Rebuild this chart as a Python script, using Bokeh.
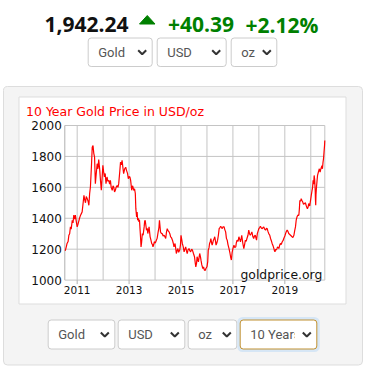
from bokeh.plotting import figure
from bokeh.models import Range1d, BoxAnnotation
from bokeh.core.properties import value
from bokeh.embed import file_html
from bokeh.resources import INLINE

# ---------------- data ----------------
years = [
    2010.54, 2010.58, 2010.61, 2010.65, 2010.68, 2010.71, 2010.74, 2010.77, 2010.81, 2010.84,
    2010.87, 2010.90, 2010.93, 2010.96, 2011.00, 2011.03, 2011.06, 2011.09, 2011.13, 2011.16,
    2011.19, 2011.23, 2011.26, 2011.29, 2011.32, 2011.35, 2011.38, 2011.42, 2011.45, 2011.48,
    2011.51, 2011.55, 2011.58, 2011.61, 2011.64, 2011.67, 2011.70, 2011.73, 2011.77, 2011.80,
    2011.83, 2011.87, 2011.90, 2011.93, 2011.96, 2011.99, 2012.02, 2012.05, 2012.08, 2012.11,
    2012.15, 2012.18, 2012.22, 2012.25, 2012.28, 2012.31, 2012.35, 2012.38, 2012.41, 2012.44,
    2012.47, 2012.50, 2012.54, 2012.57, 2012.60, 2012.64, 2012.67, 2012.70, 2012.73, 2012.76,
    2012.79, 2012.83, 2012.87, 2012.90, 2012.94, 2012.97, 2013.00, 2013.03, 2013.06, 2013.10,
    2013.13, 2013.15, 2013.18, 2013.21, 2013.24, 2013.26, 2013.29, 2013.31, 2013.33, 2013.36,
    2013.38, 2013.40, 2013.42, 2013.44, 2013.46, 2013.48, 2013.51, 2013.54, 2013.58, 2013.60,
    2013.62, 2013.65, 2013.67, 2013.70, 2013.72, 2013.75, 2013.77, 2013.79, 2013.81, 2013.84,
    2013.87, 2013.90, 2013.92, 2013.95, 2013.97, 2014.01, 2014.05, 2014.08, 2014.12, 2014.15,
    2014.17, 2014.19, 2014.21, 2014.25, 2014.28, 2014.31, 2014.35, 2014.38, 2014.41, 2014.44,
    2014.47, 2014.50, 2014.54, 2014.57, 2014.60, 2014.63, 2014.67, 2014.70, 2014.73, 2014.77,
    2014.80, 2014.82, 2014.85, 2014.88, 2014.91, 2014.95, 2014.98, 2015.00, 2015.03, 2015.05,
    2015.08, 2015.12, 2015.15, 2015.18, 2015.21, 2015.24, 2015.27, 2015.31, 2015.34, 2015.37,
    2015.41, 2015.44, 2015.48, 2015.52, 2015.55, 2015.57, 2015.60, 2015.62, 2015.65, 2015.67,
    2015.70, 2015.72, 2015.75, 2015.77, 2015.80, 2015.84, 2015.87, 2015.90, 2015.93, 2015.96,
    2016.00, 2016.03, 2016.05, 2016.08, 2016.10, 2016.13, 2016.15, 2016.18, 2016.20, 2016.23,
    2016.25, 2016.28, 2016.30, 2016.33, 2016.35, 2016.38, 2016.41, 2016.44, 2016.47, 2016.50,
    2016.53, 2016.56, 2016.59, 2016.62, 2016.66, 2016.69, 2016.72, 2016.75, 2016.78, 2016.81,
    2016.85, 2016.88, 2016.91, 2016.94, 2016.97, 2017.00, 2017.04, 2017.07, 2017.11, 2017.13,
    2017.16, 2017.20, 2017.23, 2017.26, 2017.29, 2017.32, 2017.34, 2017.38, 2017.42, 2017.45,
    2017.48, 2017.51, 2017.54, 2017.58, 2017.61, 2017.64, 2017.67, 2017.70, 2017.73, 2017.77,
    2017.80, 2017.83, 2017.86, 2017.91, 2017.94, 2018.00, 2018.03, 2018.06, 2018.10, 2018.13,
    2018.16, 2018.19, 2018.22, 2018.26, 2018.29, 2018.32, 2018.35, 2018.38, 2018.42, 2018.45,
    2018.48, 2018.51, 2018.55, 2018.58, 2018.60, 2018.62, 2018.65, 2018.67, 2018.70, 2018.72,
    2018.75, 2018.77, 2018.80, 2018.83, 2018.86, 2018.90, 2018.93, 2018.96, 2019.00, 2019.03,
    2019.06, 2019.09, 2019.12, 2019.15, 2019.19, 2019.22, 2019.25, 2019.28, 2019.31, 2019.35,
    2019.38, 2019.41, 2019.44, 2019.47, 2019.50, 2019.54, 2019.56, 2019.58, 2019.61, 2019.63,
    2019.66, 2019.69, 2019.72, 2019.76, 2019.79, 2019.82, 2019.85, 2019.87, 2019.90, 2019.92,
    2019.96, 2019.99, 2020.02, 2020.05, 2020.07, 2020.09, 2020.11, 2020.13, 2020.15, 2020.17,
    2020.18, 2020.19, 2020.20, 2020.22, 2020.24, 2020.26, 2020.28, 2020.31, 2020.33, 2020.36,
    2020.38, 2020.41, 2020.43, 2020.45, 2020.47, 2020.49, 2020.51, 2020.53, 2020.54,
]
prices = [
    1190, 1215, 1237, 1250, 1290, 1300, 1344, 1330, 1387, 1370,
    1420, 1395, 1420, 1385, 1344, 1360, 1380, 1400, 1420, 1430,
    1440, 1500, 1548, 1520, 1500, 1540, 1530, 1510, 1484, 1560,
    1602, 1740, 1860, 1871, 1820, 1796, 1624, 1680, 1753, 1720,
    1780, 1710, 1640, 1581, 1660, 1742, 1700, 1667, 1690, 1624,
    1667, 1640, 1645, 1620, 1645, 1600, 1581, 1610, 1602, 1570,
    1581, 1600, 1612, 1600, 1624, 1700, 1763, 1745, 1774, 1730,
    1688, 1720, 1730, 1710, 1690, 1656, 1670, 1667, 1645, 1581,
    1610, 1602, 1580, 1591, 1560, 1462, 1409, 1440, 1387, 1400,
    1376, 1390, 1333, 1280, 1215, 1240, 1301, 1290, 1344, 1380,
    1387, 1350, 1323, 1335, 1301, 1325, 1344, 1310, 1280, 1260,
    1237, 1230, 1215, 1230, 1248, 1240, 1258, 1270, 1312, 1340,
    1387, 1350, 1312, 1300, 1301, 1285, 1290, 1280, 1269, 1310,
    1333, 1320, 1312, 1300, 1280, 1275, 1258, 1240, 1215, 1237,
    1200, 1172, 1190, 1204, 1180, 1194, 1230, 1290, 1260, 1237,
    1220, 1183, 1200, 1215, 1190, 1172, 1195, 1204, 1190, 1183,
    1200, 1194, 1172, 1151, 1110, 1086, 1110, 1151, 1130, 1118,
    1150, 1172, 1150, 1129, 1100, 1075, 1085, 1065, 1062, 1075,
    1086, 1120, 1194, 1210, 1237, 1250, 1269, 1240, 1226, 1245,
    1258, 1270, 1280, 1250, 1226, 1240, 1258, 1290, 1333, 1340,
    1348, 1340, 1333, 1345, 1344, 1325, 1312, 1270, 1258, 1230,
    1204, 1180, 1151, 1130, 1180, 1204, 1226, 1210, 1215, 1240,
    1258, 1250, 1280, 1265, 1248, 1270, 1290, 1240, 1204, 1230,
    1258, 1250, 1269, 1290, 1323, 1300, 1290, 1300, 1312, 1280,
    1269, 1285, 1290, 1258, 1301, 1333, 1340, 1348, 1335, 1333,
    1340, 1344, 1330, 1323, 1335, 1333, 1315, 1301, 1290, 1269,
    1255, 1237, 1220, 1204, 1190, 1183, 1200, 1194, 1205, 1215,
    1210, 1204, 1225, 1237, 1230, 1248, 1255, 1269, 1285, 1301,
    1315, 1323, 1315, 1301, 1295, 1290, 1285, 1280, 1275, 1290,
    1320, 1344, 1390, 1409, 1420, 1419, 1460, 1516, 1510, 1527,
    1515, 1505, 1490, 1495, 1500, 1484, 1470, 1462, 1475, 1495,
    1480, 1516, 1550, 1581, 1600, 1645, 1620, 1677, 1650, 1581,
    1520, 1484, 1550, 1602, 1640, 1677, 1690, 1710, 1720, 1699,
    1715, 1731, 1740, 1720, 1760, 1785, 1828, 1870, 1903,
]

x_start, x_end = 2010.523, 2020.54
y_start, y_end = 1000, 2000
y_ticks = [1000, 1200, 1400, 1600, 1800, 2000]
y_tick_labels = ["1000", "1200", "1400", "1600", "1800", "2000"]
x_grid_years = [2011, 2012, 2013, 2014, 2015, 2016, 2017, 2018, 2019, 2020]
x_label_years = [2011, 2013, 2015, 2017, 2019]
x_tick_labels = ["2011", "2013", "2015", "2017", "2019"]

price_now = "1,942.24"
change_abs = "+40.39"
change_pct = "+2.12%"
chart_title = "10 Year Gold Price in USD/oz"
watermark = "goldprice.org"
top_selects = ["Gold", "USD", "oz"]
bottom_selects = ["Gold", "USD", "oz", "10 Years"]

# ---------------- layout (page pixels) ----------------
W, H = 367, 369
PL, PR, PT, PB = 64.3, 324.3, 125.0, 279.6   # plot area in page pixels

xs = (x_end - x_start) / (PR - PL)
ys = (y_end - y_start) / (PB - PT)

p = figure(width=W, height=H, x_range=Range1d(0, W), y_range=Range1d(H, 0),
           output_backend="svg", toolbar_location=None, min_border=0,
           x_axis_location=None, y_axis_location=None)
p.grid.visible = False
p.outline_line_color = None
p.background_fill_color = "white"
p.border_fill_color = "white"
p.extra_x_ranges = {"yr": Range1d(x_start - PL * xs, x_start + (W - PL) * xs)}
p.extra_y_ranges = {"px": Range1d(y_start - (H - PB) * ys, y_end + PT * ys)}

def box(l, r, t, b, fill="white", line="#cccccc", lw=1, radius=3, level="underlay"):
    p.add_layout(BoxAnnotation(left=l, right=r, top=t, bottom=b, fill_color=fill,
                               fill_alpha=1, line_color=line, line_width=lw,
                               line_alpha=1 if line else 0, border_radius=radius,
                               level=level))

# grey panel and white chart card
box(3, 362, 86, 364.5, fill="#f4f4f4", line="#dddddd", radius=4)
box(18.5, 345.5, 96.5, 303.5, fill="white", line="#dddddd", radius=0)

# ---------------- header ----------------
hdr_font = value("Open Sans")
p.text(x=[44], y=[24], text=[price_now], text_font=hdr_font, text_font_size="21px",
       text_font_style="bold", text_color="#111111", text_baseline="alphabetic")
p.patch(x=[139, 154.5, 146.75], y=[23.5, 23.5, 15], color="#008000")
p.text(x=[167.5, 245], y=[24, 24], text=[change_abs, change_pct], text_font=hdr_font,
       text_font_size="21px", text_font_style="bold", text_color="#008000",
       text_baseline="alphabetic")

# ---------------- select boxes ----------------
sel_font = value("Roboto")
def selects(labels, lefts, rights, top, bottom, special=None):
    cy = (top + bottom) / 2
    for i, (lab, l, r) in enumerate(zip(labels, lefts, rights)):
        if special == i:
            box(l - 1.5, r + 1.5, top - 1.5, bottom + 1.5, fill="white", line="#d6e6f5", lw=3, radius=4)
            box(l, r, top, bottom, fill="white", line="#c09030", radius=3)
        else:
            box(l, r, top, bottom, fill="white", line="#cccccc", radius=3)
    p.text(x=[l + 10 for l in lefts], y=[cy] * len(labels), text=labels, text_font=sel_font,
           text_font_size="13px", text_color="#555555", text_baseline="middle")
    if special is not None:
        # the select clips its long label before the arrow
        box(rights[special] - 22, rights[special] - 15.5, top + 2, bottom - 2,
            fill="white", line=None, radius=0, level="annotation")
    cxs = [r - 10 for r in rights]
    p.multi_line(xs=[[c - 4, c, c + 4] for c in cxs],
                 ys=[[cy - 2, cy + 2, cy - 2] for _ in cxs],
                 line_color="#333333", line_width=2, level="overlay")

selects(top_selects, [87.7, 156.7, 230.7], [151.7, 225.7, 276.3], 37.5, 66)
selects(bottom_selects, [47.7, 117.7, 187.7, 239.7], [114.3, 184.3, 236.3, 316.3],
        319.5, 348.5, special=3)

# ---------------- chart ----------------
chart_font = value("DejaVu Sans")
p.text(x=[25.5], y=[110.5], text=[chart_title], text_font=chart_font,
       text_font_size="12.5px", text_color="#ff0000", text_baseline="alphabetic")

grid_col = "#c4c4c4"
p.segment(x0=x_grid_years, x1=x_grid_years, y0=[y_start] * len(x_grid_years),
          y1=[y_end] * len(x_grid_years), line_color=grid_col, line_width=1,
          x_range_name="yr", y_range_name="px")
p.segment(x0=[x_start] * len(y_ticks), x1=[x_end] * len(y_ticks), y0=y_ticks, y1=y_ticks,
          line_color=grid_col, line_width=1, x_range_name="yr", y_range_name="px")
p.segment(x0=[x_start], x1=[x_start], y0=[y_start], y1=[y_end], line_color="#b0b0b0",
          x_range_name="yr", y_range_name="px")
p.segment(x0=[x_end], x1=[x_end], y0=[y_start], y1=[y_end], line_color=grid_col,
          x_range_name="yr", y_range_name="px")
# major tick marks below the axis
p.ray(x=x_label_years, y=[y_start] * len(x_label_years), length=4, angle=-1.5708,
      length_units="screen", line_color="#b0b0b0", x_range_name="yr", y_range_name="px")

p.line(years, prices, line_color="#ff0000", line_width=1.2, x_range_name="yr", y_range_name="px")

p.text(x=[PL - 3] * len(y_ticks), y=y_ticks, text=y_tick_labels, text_font=chart_font,
       text_font_size="12px", text_color="#111111", text_align="right",
       text_baseline="middle", y_range_name="px")
p.text(x=x_label_years, y=[y_start] * len(x_label_years), text=x_tick_labels,
       text_font=chart_font, text_font_size="10.5px", text_color="#111111",
       text_align="center", text_baseline="top", y_offset=6,
       x_range_name="yr", y_range_name="px")
p.text(x=[x_end], y=[y_start], text=[watermark], text_font=chart_font,
       text_font_size="12.4px", text_color="#111111", text_align="right",
       text_baseline="alphabetic", x_offset=-2.5, y_offset=-6,
       x_range_name="yr", y_range_name="px")

open("out.html", "w").write(file_html(p, INLINE))
